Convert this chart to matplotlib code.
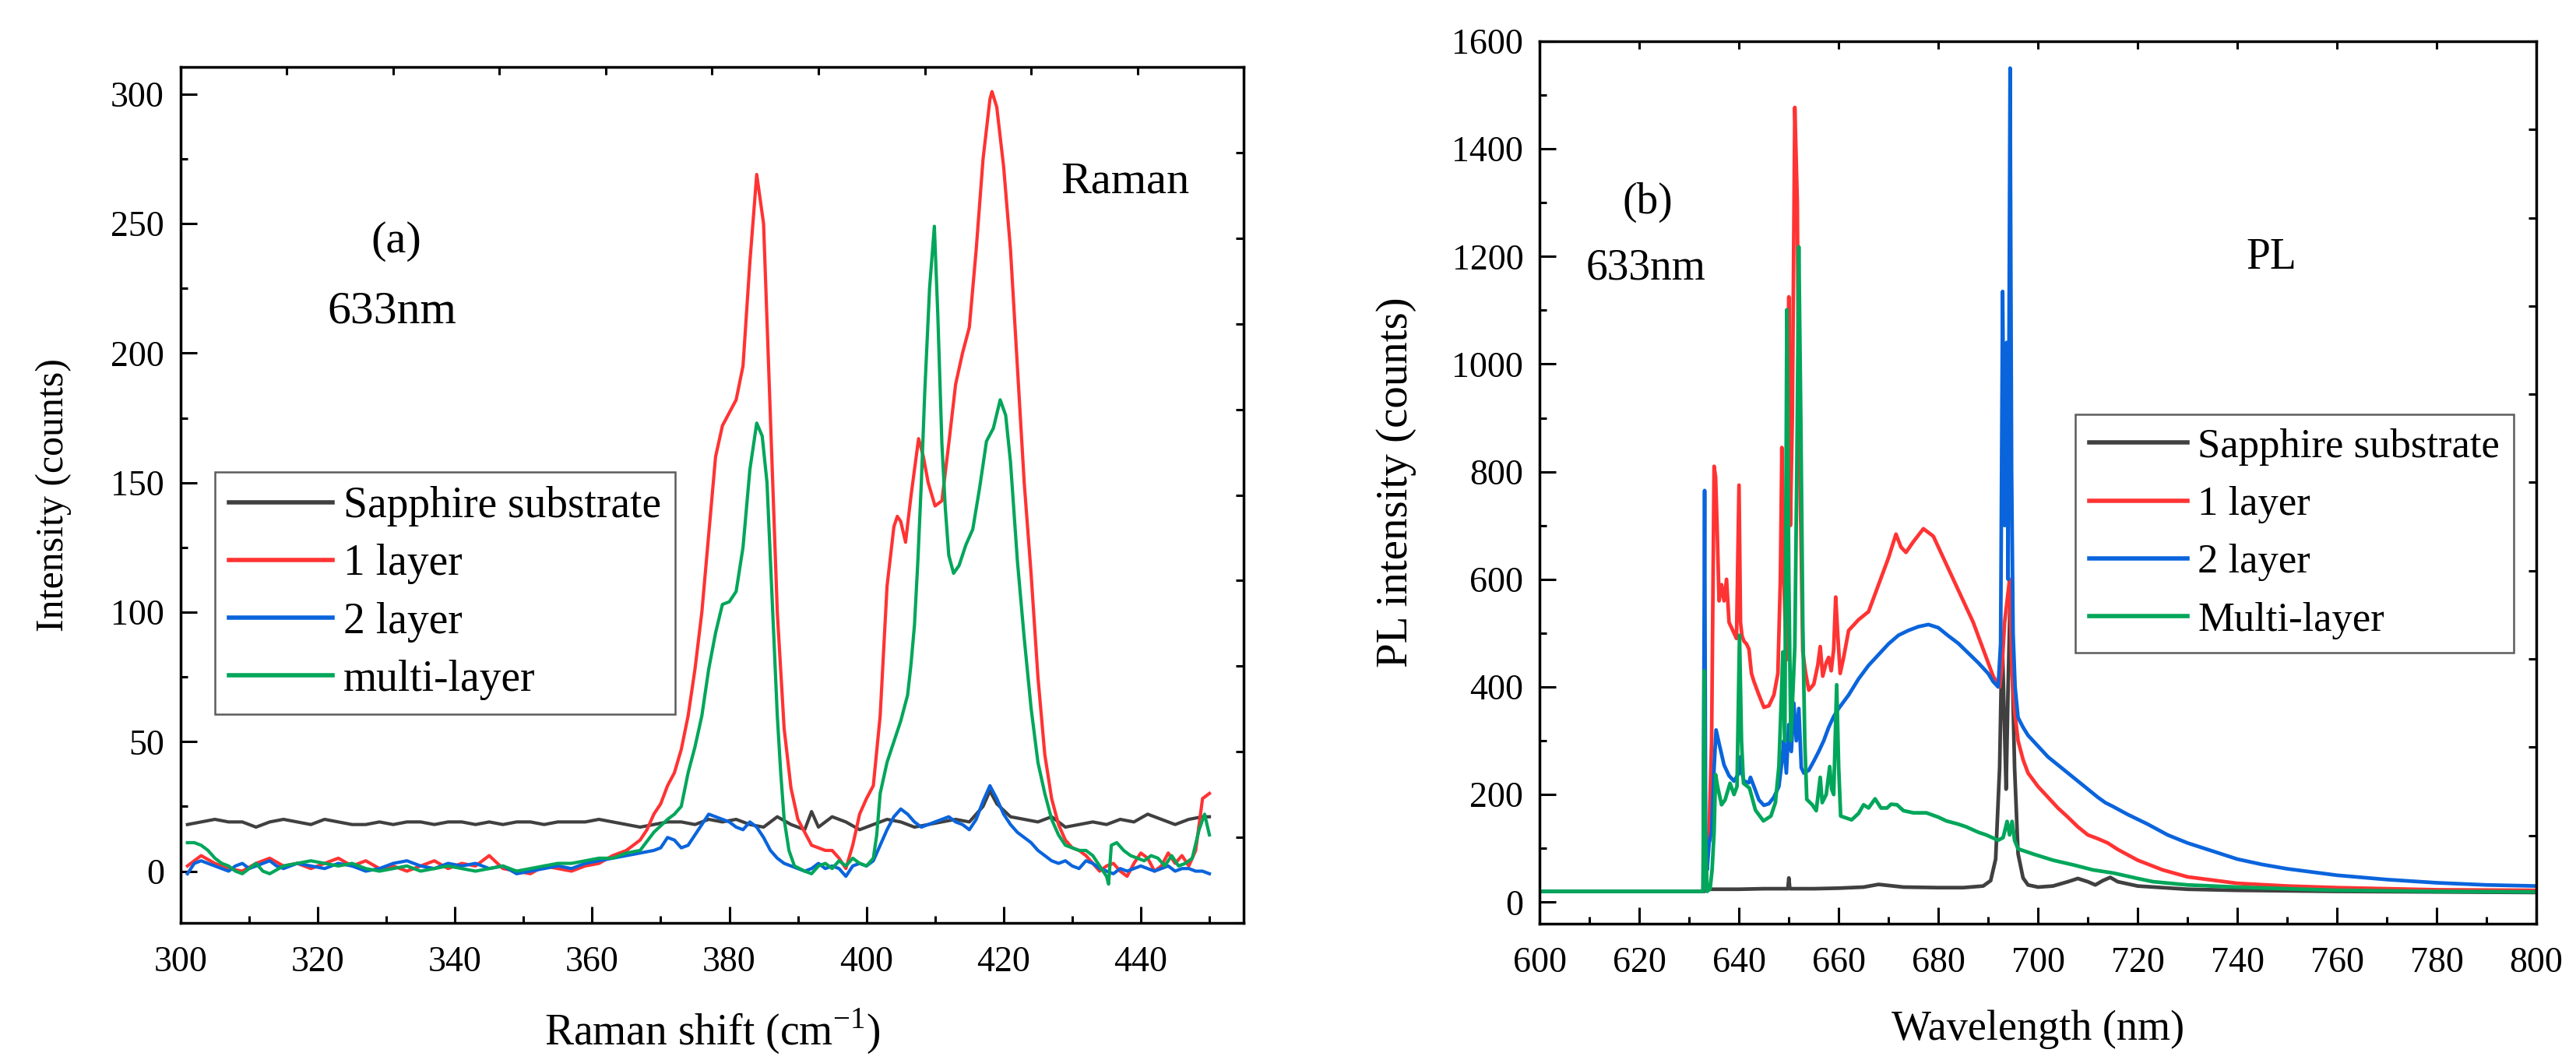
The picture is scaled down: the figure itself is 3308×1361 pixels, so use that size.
import numpy as np
import matplotlib
matplotlib.use("Agg")
import matplotlib.pyplot as plt
from matplotlib.ticker import MultipleLocator

plt.rcParams['font.family'] = ['Liberation Serif', 'DejaVu Serif']
plt.rcParams['mathtext.fontset'] = 'custom'
plt.rcParams['mathtext.rm'] = 'Liberation Serif'

# ---------------- data ----------------
# (a) Raman, 633 nm
raman_sapphire = [(301, 18), (303, 19), (305, 20), (307, 19), (309, 19), (311, 17), (313, 19), (315, 20),
                  (317, 19), (319, 18), (321, 20), (323, 19), (325, 18), (327, 18), (329, 19), (331, 18),
                  (333, 19), (335, 19), (337, 18), (339, 19), (341, 19), (343, 18), (345, 19), (347, 18),
                  (349, 19), (351, 19), (353, 18), (355, 19), (357, 19), (359, 19), (361, 20), (363, 19),
                  (365, 18), (367, 17), (369, 18), (371, 19), (373, 19), (375, 18), (377, 20), (379, 19),
                  (381, 20), (383, 18), (385, 17), (387, 21), (389, 18), (391, 16), (392, 23), (393, 17),
                  (395, 21), (397, 19), (399, 16), (401, 18), (403, 20), (405, 19), (407, 17), (409, 18),
                  (411, 19), (413, 20), (415, 19), (417, 25), (418, 31), (419, 26), (421, 21), (423, 20),
                  (425, 19), (427, 21), (429, 17), (431, 18), (433, 19), (435, 18), (437, 20), (439, 19),
                  (441, 22), (443, 20), (445, 18), (447, 20), (449, 21), (450, 21)]

raman_1layer = [(301, 2), (302, 4), (303, 6), (305, 3), (307, 1), (309, 0), (311, 3), (313, 5), (315, 2),
                (317, 3), (319, 1), (321, 3), (323, 5), (325, 2), (327, 4), (329, 1), (331, 2), (333, 0),
                (335, 2), (337, 4), (339, 1), (341, 3), (343, 2), (345, 6), (347, 1), (349, 0), (351, -1),
                (353, 2), (355, 1), (357, 0), (359, 2), (361, 3), (363, 6), (365, 8), (366, 10), (367, 12),
                (368, 16), (369, 22), (370, 26), (371, 33), (372, 38), (373, 47), (374, 60), (375, 78),
                (376, 100), (377, 130), (378, 160), (379, 172), (380, 177), (381, 182), (382, 195),
                (383, 235), (384, 269), (385, 250), (386, 175), (387, 100), (388, 55), (389, 32), (390, 20),
                (391, 15), (392, 10), (393, 9), (394, 8), (395, 8), (396, 5), (397, 1), (398, 10), (399, 22),
                (400, 28), (401, 33), (402, 60), (403, 110), (404, 133), (404.5, 137), (405, 135),
                (405.7, 127), (406.5, 145), (407.6, 167), (408.3, 160), (409, 150), (410, 141), (411, 143),
                (412, 165), (413, 188), (414, 200), (415, 210), (416, 240), (417, 275), (418, 298),
                (418.3, 301), (419, 295), (420, 272), (421, 240), (422, 195), (423, 150), (424, 115),
                (425, 75), (426, 45), (427, 28), (428, 18), (429, 12), (430, 9), (431, 8), (432, 6), (433, 3),
                (434, 0), (435, 2), (436, 3), (437, 0), (438, -2), (439, 3), (440, 7), (441, 5), (442, 0),
                (443, 2), (444, 7), (445, 3), (446, 6), (447, 2), (448, 8), (449, 28), (450, 30)]

raman_2layer = [(301, -1), (302, 3), (303, 4), (304, 3), (305, 2), (306, 1), (307, 0), (308, 2), (309, 3),
                (310, 1), (311, 2), (312, 3), (313, 4), (314, 2), (315, 1), (317, 3), (319, 2), (321, 1),
                (323, 3), (325, 2), (327, 0), (329, 1), (331, 3), (333, 4), (335, 2), (337, 1), (339, 3),
                (341, 2), (343, 3), (345, 1), (347, 2), (349, -1), (351, 0), (353, 1), (355, 2), (357, 1),
                (359, 3), (361, 4), (363, 5), (365, 6), (367, 7), (369, 8), (370, 9), (371, 13), (372, 12),
                (373, 9), (374, 10), (375, 14), (376, 18), (377, 22), (378, 21), (379, 20), (380, 19),
                (381, 17), (382, 16), (383, 19), (384, 17), (385, 13), (386, 8), (387, 5), (388, 3), (389, 2),
                (390, 1), (391, 0), (392, 1), (393, 3), (394, 1), (395, 2), (396, 1), (397, -2), (398, 2),
                (399, 3), (400, 2), (401, 4), (402, 10), (403, 16), (404, 21), (405, 24), (406, 22),
                (407, 19), (408, 17), (409, 18), (410, 19), (411, 20), (412, 21), (413, 19), (414, 18),
                (415, 16), (416, 20), (417, 27), (418, 33), (419, 28), (420, 22), (421, 18), (422, 15),
                (423, 13), (424, 11), (425, 8), (426, 6), (427, 4), (428, 3), (429, 4), (430, 2), (431, 1),
                (432, 4), (433, 3), (434, 1), (435, 0), (436, -1), (437, 1), (438, 0), (439, 1), (440, 2),
                (441, 1), (442, 0), (443, 1), (444, 2), (445, 0), (446, 1), (447, 1), (448, 0), (449, 0),
                (450, -1)]

raman_multi = [(301, 11), (302, 11), (303, 10), (304, 8), (305, 5), (306, 3), (307, 2), (308, 0), (309, -1),
               (310, 1), (311, 3), (312, 0), (313, -1), (315, 2), (317, 3), (319, 4), (321, 3), (323, 2),
               (325, 3), (327, 1), (329, 0), (331, 1), (333, 2), (335, 0), (337, 1), (339, 2), (341, 1),
               (343, 0), (345, 1), (347, 2), (349, 0), (351, 1), (353, 2), (355, 3), (357, 3), (359, 4),
               (361, 5), (363, 5), (365, 7), (367, 8), (369, 15), (371, 20), (372, 22), (373, 25), (374, 38),
               (375, 48), (376, 60), (377, 78), (378, 92), (379, 103), (380, 104), (381, 108), (382, 125),
               (383, 155), (384, 173), (384.8, 168), (385.5, 150), (386, 120), (386.5, 90), (387, 60),
               (387.5, 38), (388, 20), (388.7, 8), (389.5, 2), (391, 0), (392, -1), (393, 2), (394, 3),
               (395, 1), (396, 4), (397, 2), (398, 5), (399, 3), (400, 2), (401, 5), (401.5, 14), (402, 30),
               (403, 42), (404, 50), (405, 58), (406, 68), (406.5, 80), (407, 95), (407.5, 120), (408, 150),
               (408.5, 185), (409.2, 225), (409.9, 249), (410.4, 215), (411, 165), (411.5, 140), (412, 122),
               (412.7, 115), (413.5, 118), (414.5, 126), (415.5, 132), (416.5, 148), (417.5, 166),
               (418.5, 171), (419.5, 182), (420.3, 176), (421, 158), (422, 120), (423, 90), (424, 63),
               (425, 42), (426, 30), (427, 20), (428, 14), (429, 10), (430, 9), (431, 8), (432, 8), (433, 6),
               (434, 2), (435, -2), (435.3, -5), (435.7, 10), (436.5, 11), (437.5, 8), (438.5, 6), (439.5, 5),
               (440.5, 4), (441.5, 6), (442.5, 5), (443.5, 2), (444.5, 6), (445.5, 2), (446.5, 3), (447.5, 5),
               (448.5, 16), (449.3, 22), (450, 14)]

# (b) PL, 633 nm
pl_sapphire = [(600, 20), (633, 20), (634, 24), (640, 24), (645, 25), (649.8, 25), (650.0, 45), (650.2, 25),
               (655, 25), (660, 26), (665, 28), (668, 33), (670, 31), (673, 28), (680, 27), (685, 27),
               (689, 30), (690.5, 40), (691.5, 80), (692.3, 250), (692.8, 500), (693.2, 350), (693.6, 210),
               (694.0, 400), (694.4, 560), (694.8, 450), (695.3, 250), (696, 90), (697, 45), (698, 32),
               (700, 28), (703, 30), (706, 38), (708, 44), (710, 38), (711.5, 32), (713, 40), (714.5, 46),
               (716, 38), (720, 30), (730, 24), (740, 22), (760, 20), (780, 19), (800, 18)]

pl_1layer = [(600, 20), (632.8, 20), (633.0, 180), (633.2, 120), (633.6, 90), (634.0, 130), (634.5, 300),
             (635.0, 810), (635.3, 790), (635.6, 700), (636.0, 560), (636.5, 590), (637.0, 560), (637.5, 600),
             (638.0, 520), (638.5, 510), (639.0, 500), (639.5, 490), (640.0, 775), (640.3, 520), (640.6, 495),
             (641.0, 485), (641.5, 480), (642.0, 470), (642.5, 425), (643.0, 410), (644.0, 385), (645.0, 362),
             (646.0, 365), (647.0, 385), (647.8, 425), (648.3, 600), (648.6, 845), (649.0, 600), (649.5, 450),
             (650.0, 1125), (650.3, 700), (650.7, 900), (651.2, 1477), (651.7, 1300), (652.0, 900),
             (652.4, 700), (652.8, 466), (653.3, 430), (654.0, 394), (655.0, 405), (655.8, 440), (656.3, 475),
             (656.8, 420), (657.5, 445), (658.0, 455), (658.5, 430), (659.0, 470), (659.4, 567), (659.8, 500),
             (660.3, 425), (661, 455), (662, 505), (664, 525), (666, 540), (668, 590), (670, 640),
             (671.5, 684), (672.5, 660), (673.5, 650), (675, 670), (677, 694), (679, 680), (681, 640),
             (683, 600), (685, 560), (687, 520), (689, 470), (691, 420), (692.3, 400), (692.8, 440),
             (693.3, 520), (693.8, 560), (694.3, 600), (694.8, 420), (695.3, 355), (696, 300), (697, 265),
             (698, 240), (700, 215), (702, 195), (704, 175), (706, 158), (708, 140), (710, 125), (712, 118),
             (714, 110), (716, 98), (718, 88), (720, 78), (725, 60), (730, 47), (740, 35), (750, 30),
             (760, 27), (770, 25), (780, 23), (800, 22)]

pl_2layer = [(600, 20), (632.8, 20), (633.0, 500), (633.1, 765), (633.3, 130), (633.6, 60), (634.0, 110),
             (634.5, 130), (635.0, 250), (635.4, 320), (636.0, 295), (637.0, 255), (638.0, 235), (639.0, 225),
             (640.0, 240), (640.3, 270), (640.6, 240), (641.0, 225), (642.0, 222), (642.3, 232), (643.0, 215),
             (644.0, 190), (645.0, 180), (646.0, 183), (647.0, 195), (648.0, 215), (648.6, 260), (649.0, 300),
             (649.5, 240), (650.0, 330), (650.5, 280), (651.0, 370), (651.5, 300), (652.0, 360), (652.5, 250),
             (653.0, 240), (654.0, 245), (655.0, 262), (656.0, 280), (657.0, 300), (658.0, 325), (659.0, 345),
             (660.0, 360), (662, 385), (664, 415), (666, 440), (668, 460), (670, 480), (672, 496), (674, 505),
             (676, 512), (678, 516), (680, 510), (682, 495), (684, 481), (686, 463), (688, 445), (690, 425),
             (691, 410), (692, 400), (692.5, 480), (692.9, 1135), (693.3, 700), (693.7, 1040), (694.0, 600),
             (694.4, 1550), (694.7, 800), (695.0, 500), (695.4, 400), (696, 343), (697, 325), (698, 310),
             (700, 290), (702, 270), (704, 255), (706, 240), (708, 225), (710, 210), (712, 195), (713.5, 185),
             (715, 178), (718, 163), (722, 145), (726, 125), (730, 110), (735, 95), (740, 80), (745, 70),
             (750, 62), (760, 50), (770, 42), (780, 36), (790, 32), (800, 30)]

pl_multi = [(600, 20), (632.8, 20), (633.0, 430), (633.2, 150), (633.6, 20), (634.2, 25), (634.6, 60),
            (635.0, 130), (635.3, 237), (635.7, 215), (636.5, 181), (637.2, 190), (638.2, 221), (639, 200),
            (639.6, 215), (640.1, 496), (640.5, 300), (640.9, 221), (642.1, 212), (643.3, 171), (644.9, 151),
            (646.4, 160), (647.3, 185), (648, 252), (648.5, 380), (648.8, 465), (649.2, 300), (649.6, 1101),
            (650.0, 600), (650.4, 300), (651.2, 475), (651.6, 800), (652.0, 1218), (652.4, 900), (652.8, 516),
            (653.2, 300), (653.6, 191), (654.7, 181), (655.5, 170), (656.3, 232), (656.7, 185), (657.5, 200),
            (658.2, 252), (658.6, 210), (659.0, 200), (659.6, 404), (660.0, 250), (660.4, 160), (662.6, 153),
            (664, 165), (665, 181), (666, 175), (667.3, 192), (668.5, 175), (669.7, 175), (670.5, 182),
            (671.7, 181), (673, 170), (675, 166), (677.6, 166), (680, 158), (681.6, 151), (684, 145),
            (685.6, 140), (688, 130), (689.6, 125), (692, 115), (693, 120), (693.8, 150), (694.3, 125),
            (694.8, 150), (695.3, 115), (696, 99), (699.2, 89), (703, 78), (707.2, 69), (711, 60),
            (715.2, 54), (720, 44), (723.1, 38), (730, 32), (740, 28), (760, 22), (780, 20), (800, 19)]

labels_a = ['Sapphire substrate', '1 layer', '2 layer', 'multi-layer']
labels_b = ['Sapphire substrate', '1 layer', '2 layer', 'Multi-layer']
colors = ['#404040', '#ff3333', '#0a64dc', '#00a65a']

# ---------------- figure ----------------
fig = plt.figure(figsize=(33.08, 13.61), dpi=100)
ax1 = fig.add_axes([0.0701, 0.1293, 0.4127, 0.8075])
ax2 = fig.add_axes([0.5977, 0.1286, 0.3869, 0.8325])


def style(ax, xlim, ylim, xmaj, xmin, ymaj, ymin):
    ax.set_xlim(*xlim)
    ax.set_ylim(*ylim)
    ax.xaxis.set_major_locator(MultipleLocator(xmaj))
    ax.xaxis.set_minor_locator(MultipleLocator(xmin))
    ax.yaxis.set_major_locator(MultipleLocator(ymaj))
    ax.yaxis.set_minor_locator(MultipleLocator(ymin))
    ax.tick_params(which='major', direction='in', length=15, width=2.2, labelsize=33)
    ax.tick_params(which='minor', direction='in', length=6.5, width=2.2)
    ax.tick_params(axis='x', which='major', pad=21)
    ax.tick_params(axis='y', which='major', pad=15)
    for s in ax.spines.values():
        s.set_linewidth(2.5)
    # top / right: 10 equal divisions, short inward ticks, no labels
    tx = ax.twiny()
    tx.set_xlim(*xlim)
    tx.set_xticks(np.linspace(xlim[0], xlim[1], 11))
    tx.tick_params(direction='in', length=7, width=2.2, labeltop=False)
    ty = ax.twinx()
    ty.set_ylim(*ylim)
    ty.set_yticks(np.linspace(ylim[0], ylim[1], 11))
    ty.tick_params(direction='in', length=7, width=2.2, labelright=False)


series_a = [raman_sapphire, raman_1layer, raman_2layer, raman_multi]
for data, lab, c in zip(series_a, labels_a, colors):
    x, y = np.array(data).T
    ax1.plot(x, y, color=c, lw=3.0, label=lab)

series_b = [pl_sapphire, pl_1layer, pl_2layer, pl_multi]
for data, lab, c in zip(series_b, labels_b, colors):
    x, y = np.array(data).T
    ax2.plot(x, y, color=c, lw=3.4, label=lab)

for ax, bb, fs, sp in [(ax1, (0.032, 0.527), 40, 0.4), (ax2, (0.5375, 0.577), 38, 0.5)]:
    leg = ax.legend(loc='upper left', bbox_to_anchor=bb, borderaxespad=0, fontsize=fs,
                    frameon=True, fancybox=False, handlelength=2.4, handletextpad=0.25,
                    labelspacing=sp, borderpad=0.33)
    leg.get_frame().set_edgecolor('#333333')
    leg.get_frame().set_linewidth(1.8)
    for h in leg.get_lines():
        h.set_linewidth(4)

style(ax1, (300, 455), (-20, 310.5), 20, 10, 50, 25)
style(ax2, (600, 800), (-40, 1600), 20, 10, 200, 100)

ax1.set_xlabel('Raman shift (cm$^{-1}$)', fontsize=40, labelpad=26)
ax1.set_ylabel('Intensity (counts)', fontsize=36, labelpad=36)
ax2.set_xlabel('Wavelength (nm)', fontsize=39, labelpad=28)
ax2.set_ylabel('PL intensity (counts)', fontsize=41, labelpad=33)

ax1.text(331.4, 243, '(a)', fontsize=42, ha='center', va='center')
ax1.text(330.8, 216, '633nm', fontsize=43, ha='center', va='center')
ax1.text(437.7, 266, 'Raman', fontsize=42, ha='center', va='center')
ax2.text(621.6, 1301, '(b)', fontsize=40, ha='center', va='center')
ax2.text(621.3, 1178, '633nm', fontsize=40, ha='center', va='center')
ax2.text(746.9, 1197, 'PL', fontsize=40, ha='center', va='center')

fig.savefig('out.png', dpi=100)
